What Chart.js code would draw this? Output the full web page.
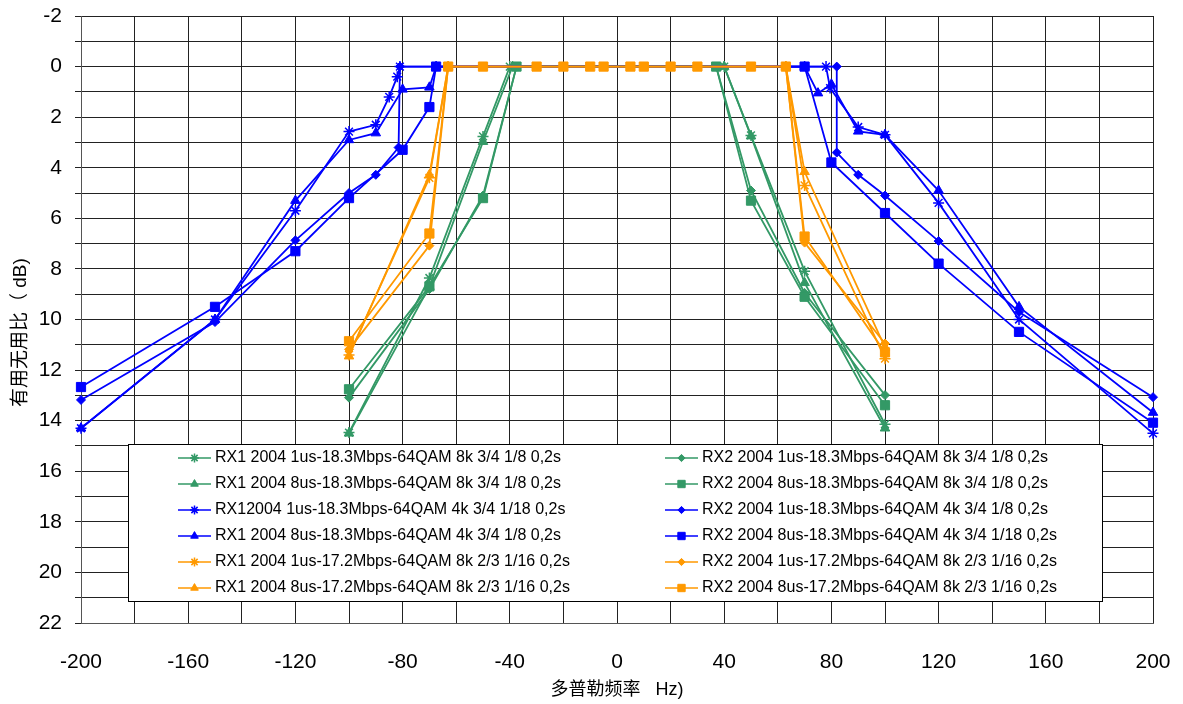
<!DOCTYPE html>
<html>
<head>
<meta charset="utf-8">
<script src="https://cdn.jsdelivr.net/npm/chart.js@4"></script>
<style>
    body { margin: 0; background: #fff; }
</style>
</head>
<body>
<canvas id="chart" width="1183" height="704"></canvas>
<script>
// Doppler frequency (Hz) and wanted/unwanted ratio (dB) for every curve
const greenStar1X = [-100, -70, -50, -40, 40, 50, 70, 100];
const greenStar1Y = [14.47, 8.36, 2.76, 0, 0, 2.72, 8.09, 14.14];

const greenTri1X = [-100, -70, -50, -39, 40, 50, 70, 100];
const greenTri1Y = [14.5, 8.7, 2.97, 0, 0, 2.75, 8.55, 14.3];

const blueStar1X = [-200, -150, -120, -100, -90, -85, -82, -81, 78, 79.5, 90, 100, 120, 150, 200];
const blueStar1Y = [14.3, 10.0, 5.7, 2.57, 2.3, 1.2, 0.4, 0, 0, 0.85, 2.39, 2.7, 5.39, 10.0, 14.5];

const blueTri1X = [-200, -150, -120, -100, -90, -80, -70, -67.5, 70, 75, 80, 90, 100, 120, 150, 200];
const blueTri1Y = [14.3, 10.0, 5.3, 2.9, 2.63, 0.9, 0.82, 0, 0, 1.05, 0.7, 2.56, 2.7, 4.9, 9.5, 13.68];

const orangeStar1X = [-100, -70, -63, 63, 70, 100];
const orangeStar1Y = [11.4, 4.4, 0, 0, 4.7, 11.55];

const orangeTri1X = [-100, -70, -63, 63, 70, 100];
const orangeTri1Y = [11.45, 4.28, 0, 0, 4.16, 11.1];

const greenDia2X = [-100, -70, -50, -37.5, 37, 50, 70, 100];
const greenDia2Y = [13.09, 8.8, 5.1, 0, 0, 4.9, 8.95, 12.99];

const greenSq2X = [-100, -70, -50, -37.5, 37, 50, 70, 100];
const greenSq2Y = [12.76, 8.69, 5.2, 0, 0, 5.3, 9.1, 13.39];

const blueDia2X = [-200, -150, -120, -100, -90, -81.5, -81, 82, 82, 90, 100, 120, 150, 200];
const blueDia2Y = [13.18, 10.1, 6.87, 5.0, 4.28, 3.2, 0, 0, 3.4, 4.28, 5.1, 6.9, 9.7, 13.07];

const blueSq2X = [-200, -150, -120, -100, -80, -70, -67.5, 70, 80, 100, 120, 150, 200];
const blueSq2Y = [12.67, 9.5, 7.3, 5.2, 3.29, 1.6, 0, 0, 3.79, 5.79, 7.79, 10.49, 14.08];

const orangeDia2X = [-100, -70, -63, 63, 70, 100];
const orangeDia2Y = [11.18, 7.08, 0, 0, 6.96, 10.95];

const orangeSq2X = [-100, -70, -63, -50, -30, -20, -10, -5, 5, 10, 20, 30, 50, 63, 70, 100];
const orangeSq2Y = [10.86, 6.6, 0, 0, 0, 0, 0, 0, 0, 0, 0, 0, 0, 0, 6.72, 11.3];

const seriesLabels = [
    "RX1 2004 1us-18.3Mbps-64QAM 8k 3/4 1/8 0,2s",
    "RX1 2004 8us-18.3Mbps-64QAM 8k 3/4 1/8 0,2s",
    "RX12004 1us-18.3Mbps-64QAM 4k 3/4 1/18 0,2s",
    "RX1 2004 8us-18.3Mbps-64QAM 4k 3/4 1/8 0,2s",
    "RX1 2004 1us-17.2Mbps-64QAM 8k 2/3 1/16 0,2s",
    "RX1 2004 8us-17.2Mbps-64QAM 8k 2/3 1/16 0,2s",
    "RX2 2004 1us-18.3Mbps-64QAM 8k 3/4 1/8 0,2s",
    "RX2 2004 8us-18.3Mbps-64QAM 8k 3/4 1/8 0,2s",
    "RX2 2004 1us-18.3Mbps-64QAM 4k 3/4 1/8 0,2s",
    "RX2 2004 8us-18.3Mbps-64QAM 4k 3/4 1/18 0,2s",
    "RX2 2004 1us-17.2Mbps-64QAM 8k 2/3 1/16 0,2s",
    "RX2 2004 8us-17.2Mbps-64QAM 8k 2/3 1/16 0,2s",
];
const seriesX = [greenStar1X, greenTri1X, blueStar1X, blueTri1X, orangeStar1X, orangeTri1X,
    greenDia2X, greenSq2X, blueDia2X, blueSq2X, orangeDia2X, orangeSq2X];
const seriesY = [greenStar1Y, greenTri1Y, blueStar1Y, blueTri1Y, orangeStar1Y, orangeTri1Y,
    greenDia2Y, greenSq2Y, blueDia2Y, blueSq2Y, orangeDia2Y, orangeSq2Y];

// styles
const GREEN = "#339966", BLUE = "#0000ff", ORANGE = "#ff9900";
const seriesColors = [GREEN, GREEN, BLUE, BLUE, ORANGE, ORANGE, GREEN, GREEN, BLUE, BLUE, ORANGE, ORANGE];
const markers = {
    star: { style: "star", radius: 5.5, width: 1.5 },
    triangle: { style: "triangle", radius: 5.5, width: 1 },
    rectRot: { style: "rectRot", radius: 4.5, width: 1 },
    rect: { style: "rect", radius: 6.5, width: 1 },
};
const seriesMarkers = ["star", "triangle", "star", "triangle", "star", "triangle",
    "rectRot", "rect", "rectRot", "rect", "rectRot", "rect"];

const latinCjk = "'Liberation Sans', 'Noto Sans CJK SC', Arial, sans-serif";

const datasets = seriesLabels.map((label, i) => {
    const m = markers[seriesMarkers[i]];
    return {
        label: label,
        data: seriesX[i].map((x, j) => ({ x: x, y: seriesY[i][j] })),
        showLine: true,
        borderColor: seriesColors[i],
        backgroundColor: seriesColors[i],
        borderWidth: 1.8,
        pointStyle: m.style,
        pointRadius: m.radius,
        pointBorderWidth: m.width,
        pointBackgroundColor: seriesColors[i],
        pointBorderColor: seriesColors[i],
        tension: 0,
        clip: false,
        order: seriesLabels.length - i, // later series on top, like the original
    };
});

// Legend drawn inside the plot area, two columns
const insideLegend = {
    id: "insideLegend",
    afterDatasetsDraw(chart) {
        const ctx = chart.ctx;
        ctx.save();
        ctx.fillStyle = "#fff";
        ctx.fillRect(128.5, 444.5, 974, 157);
        ctx.strokeStyle = "#000";
        ctx.lineWidth = 1;
        ctx.strokeRect(128.5, 444.5, 974, 157);

        chart.data.datasets.forEach((ds, i) => {
            const col = i < 6 ? 0 : 1;
            const row = i % 6;
            const lx = col === 0 ? 178 : 665;
            const ly = 458 + row * 26;
            ctx.strokeStyle = ds.borderColor;
            ctx.fillStyle = ds.backgroundColor;
            ctx.lineWidth = 1.5;
            ctx.beginPath();
            ctx.moveTo(lx, ly);
            ctx.lineTo(lx + 33, ly);
            ctx.stroke();
            ctx.lineWidth = ds.pointBorderWidth;
            Chart.helpers.drawPoint(ctx, {
                pointStyle: ds.pointStyle,
                radius: ds.pointRadius * 0.8,
                rotation: 0,
                borderWidth: ds.pointBorderWidth,
            }, lx + 16.5, ly);

            ctx.fillStyle = "#000";
            ctx.font = "16px " + latinCjk;
            ctx.textBaseline = "middle";
            ctx.textAlign = "left";
            ctx.fillText(ds.label, lx + 37, ly);
        });
        ctx.restore();
    },
};

new Chart(document.getElementById("chart").getContext("2d"), {
    type: "scatter",
    data: { datasets: datasets },
    plugins: [insideLegend],
    options: {
        responsive: false,
        animation: false,
        layout: { padding: { left: 0, right: 30, top: 16, bottom: 0 } },
        plugins: {
            legend: { display: false },
            tooltip: { enabled: false },
        },
        scales: {
            x: {
                type: "linear",
                min: -200,
                max: 200,
                ticks: {
                    stepSize: 20,
                    autoSkip: false,
                    maxRotation: 0,
                    padding: 3,
                    color: "#000",
                    font: { family: latinCjk, size: 21 },
                    callback: (v) => (v % 40 === 0 ? v : ""),
                },
                grid: { color: "#222", lineWidth: 1, drawTicks: true, tickLength: 24, tickColor: "rgba(0,0,0,0)" },
                border: { color: "#555", width: 1 },
                title: {
                    display: true,
                    text: "多普勒频率   Hz)",
                    color: "#000",
                    font: { family: latinCjk, size: 18 },
                    padding: { top: 0, bottom: 3 },
                },
                afterFit: (scale) => { scale.height = 81; },
            },
            y: {
                type: "linear",
                reverse: true,
                min: -2,
                max: 22,
                ticks: {
                    stepSize: 1,
                    autoSkip: false,
                    padding: 0,
                    color: "#000",
                    font: { family: latinCjk, size: 21 },
                    callback: (v) => (v % 2 === 0 ? v : ""),
                },
                grid: {
                    color: "#222",
                    lineWidth: 1,
                    tickLength: 19,
                    // short tick next to the axis, the rest of the tick length is label gap
                    tickColor: "#222",
                    tickBorderDash: [6, 13],
                    tickBorderDashOffset: 6,
                },
                border: { color: "#555", width: 1 },
                title: {
                    display: true,
                    text: "有用无用比（ dB)     ",
                    color: "#000",
                    font: { family: latinCjk, size: 19 },
                    padding: { top: 9, bottom: 0 },
                },
                afterFit: (scale) => { scale.width = 81; },
            },
        },
    },
});
</script>
</body>
</html>
